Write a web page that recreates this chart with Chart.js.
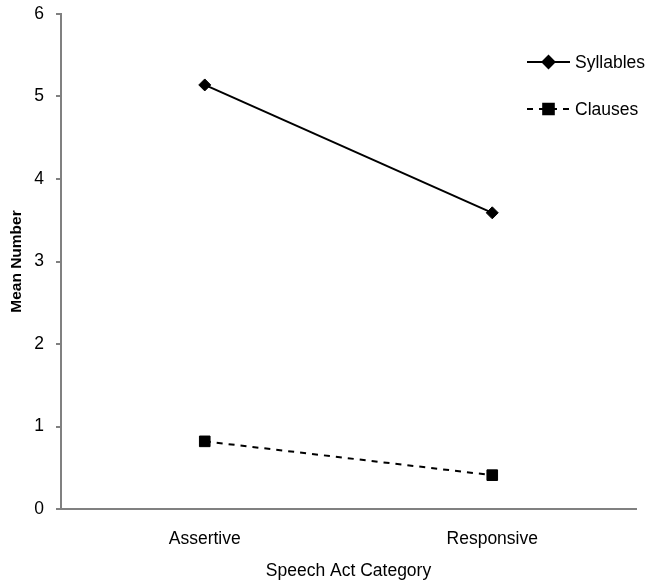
<!DOCTYPE html>
<html>
<head>
<meta charset="utf-8">
<script src="https://cdn.jsdelivr.net/npm/chart.js@4/dist/chart.umd.min.js"></script>
<style>
  body { margin: 0; background: #fff; }
  #wrap { width: 649px; height: 586px; }
</style>
</head>
<body>
<div id="wrap"><canvas id="chart" width="649" height="586"></canvas></div>
<script>
const categories = ['Assertive', 'Responsive'];
const syllables = [5.14, 3.59];
const clauses = [0.82, 0.41];
const yTicks = [0, 1, 2, 3, 4, 5, 6];

const fontFamily = '"Liberation Sans", Arial, sans-serif';
const axisGray = '#808080';

// legend drawn by hand, top right, like the original
const sideLegend = {
    id: 'sideLegend',
    afterDraw(chart) {
        const ctx = chart.ctx;
        const items = chart.data.datasets;
        const x0 = 527, x1 = 570;
        const ys = [62, 109];
        ctx.save();
        items.forEach((ds, i) => {
            const y = ys[i];
            ctx.strokeStyle = '#000';
            ctx.lineWidth = 2;
            ctx.setLineDash(ds.borderDash || []);
            ctx.beginPath();
            ctx.moveTo(x0, y);
            ctx.lineTo(x1, y);
            ctx.stroke();
            ctx.setLineDash([]);
            ctx.fillStyle = '#000';
            Chart.helpers.drawPoint(ctx, {
                pointStyle: ds.pointStyle,
                radius: ds.pointRadius,
                borderWidth: 1
            }, (x0 + x1) / 2, y);
            ctx.fill();
            ctx.fillStyle = '#000';
            ctx.font = '17.5px ' + fontFamily;
            ctx.textBaseline = 'middle';
            ctx.fillText(ds.label, 575, y + 1);
        });
        ctx.restore();
    }
};

const ctx = document.getElementById('chart').getContext('2d');
new Chart(ctx, {
    type: 'line',
    data: {
        labels: categories,
        datasets: [{
            label: 'Syllables',
            data: syllables,
            borderColor: '#000',
            backgroundColor: '#000',
            borderWidth: 2,
            pointStyle: 'rectRot',
            pointRadius: 6,
            pointBorderWidth: 1
        }, {
            label: 'Clauses',
            data: clauses,
            borderColor: '#000',
            backgroundColor: '#000',
            borderWidth: 2,
            borderDash: [6, 6],
            pointStyle: 'rect',
            pointRadius: 7.5,
            pointBorderWidth: 1
        }]
    },
    options: {
        responsive: false,
        animation: false,
        layout: { padding: { top: 14, right: 13, left: 0, bottom: 0 } },
        plugins: {
            legend: { display: false },
            tooltip: { enabled: false }
        },
        scales: {
            x: {
                offset: true,
                grid: { display: false },
                border: { display: true, color: axisGray, width: 2 },
                ticks: {
                    color: '#000',
                    font: { family: fontFamily, size: 17.5 },
                    padding: 12
                },
                title: {
                    display: true,
                    text: 'Speech Act Category',
                    color: '#000',
                    font: { family: fontFamily, size: 17.5 },
                    padding: { top: 12 }
                },
                afterFit(scale) { scale.height = 77; }
            },
            y: {
                min: 0,
                max: 6,
                afterBuildTicks(scale) {
                    scale.ticks = yTicks.map(v => ({ value: v }));
                },
                grid: {
                    drawOnChartArea: false,
                    drawTicks: true,
                    tickLength: 5,
                    color: axisGray,
                    lineWidth: 2
                },
                border: { display: true, color: axisGray, width: 2 },
                ticks: {
                    color: '#000',
                    font: { family: fontFamily, size: 17.5 },
                    padding: 12
                },
                title: {
                    display: true,
                    text: 'Mean Number',
                    color: '#000',
                    font: { family: fontFamily, size: 15.5, weight: 'bold' },
                    padding: { top: 7, bottom: 8 }
                },
                afterFit(scale) {
                    scale.width = 61;
                    scale.paddingTop = 0;
                    scale.paddingBottom = 0;
                }
            }
        }
    },
    plugins: [sideLegend]
});
</script>
</body>
</html>
